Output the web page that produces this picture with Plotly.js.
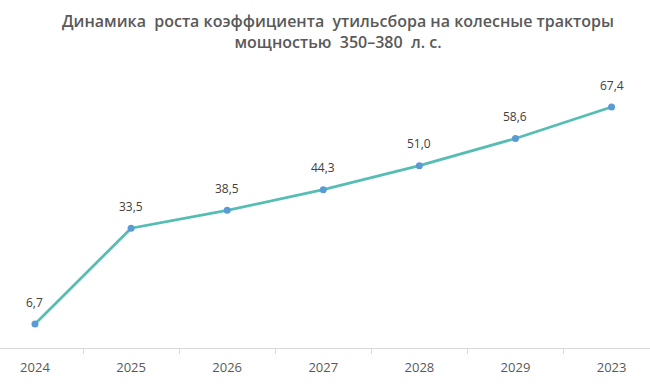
<!DOCTYPE html>
<html><head><meta charset="utf-8">
<script src="https://cdn.plot.ly/plotly-3.0.1.min.js"></script>
<style>html,body{margin:0;padding:0;background:#fff}#chart{width:650px;height:389px}</style>
</head><body><div id="chart"></div>
<script>
var categories = ['2024','2025','2026','2027','2028','2029','2023'];
var values = [6.7, 33.5, 38.5, 44.3, 51.0, 58.6, 67.4];
var labels = ['6,7','33,5','38,5','44,3','51,0','58,6','67,4'];

var trace = {
  x: categories, y: values, type: 'scatter', mode: 'lines+markers',
  line: {color: '#55BDB3', width: 2.75},
  marker: {color: '#5B9BD5', size: 7},
  hoverinfo: 'skip', cliponaxis: false
};
var annotations = [];
for (var i = 0; i < categories.length; i++) {
  annotations.push({xref: 'x', yref: 'y', x: i, y: values[i], text: labels[i],
    showarrow: false, yshift: 22, xanchor: 'center', yanchor: 'middle',
    font: {family: 'Open Sans, sans-serif', size: 12, color: '#404040'}});
}
var layout = {
  width: 650, height: 389,
  margin: {l: 0, r: 0, t: 62, b: 41},
  paper_bgcolor: '#fff', plot_bgcolor: '#fff',
  showlegend: false,
  title: {text: 'Динамика  роста коэффициента  утильсбора на колесные тракторы<br>мощностью  350–380  л. с.',
    x: 0.52, xanchor: 'center', xref: 'paper', yref: 'container', y: 0.93, yanchor: 'middle',
    font: {family: 'Open Sans, sans-serif', size: 16, color: '#595959', weight: 600}},
  xaxis: {type: 'category', range: [-0.364, 6.40], tickson: 'boundaries', ticks: 'outside',
    ticklen: 5, tickcolor: '#D9D9D9', showline: true, linecolor: '#D9D9D9', linewidth: 1,
    ticklabelstandoff: 7,
    showgrid: false, zeroline: false, fixedrange: true,
    tickfont: {family: 'Open Sans, sans-serif', size: 13, color: '#595959'}},
  yaxis: {range: [0, 80], showticklabels: false, showline: false, showgrid: false, zeroline: false, ticks: ''},
  annotations: annotations
};
Plotly.newPlot('chart', [trace], layout, {displayModeBar: false, staticPlot: true});
</script></body></html>
